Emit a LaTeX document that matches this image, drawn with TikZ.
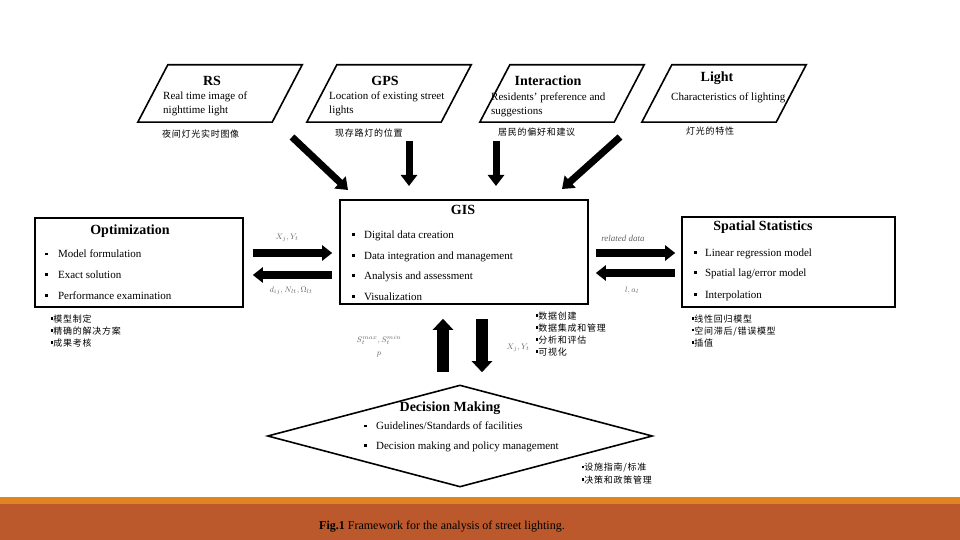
\documentclass[tikz,border=0pt]{standalone}
\usepackage{fontspec}
\setmainfont{Liberation Serif}
\newfontfamily\cjk[LetterSpace=8]{Noto Sans CJK SC}
\usetikzlibrary{arrows.meta,shapes.geometric}
\definecolor{barorange}{RGB}{226,131,33}
\definecolor{barrust}{RGB}{187,88,44}
\newcommand\sqb{\rule[0.22em]{0.26em}{0.26em}}
\newcommand\zsq{\rule[0.3em]{0.25em}{0.25em}}
\tikzset{
  pframe/.style={minimum width=164pt, minimum height=57pt, inner sep=0pt, draw=none},
  pline/.style={line width=1.6pt, line join=miter},
  boxnode/.style={draw, line width=1.6pt, inner sep=0pt},
  dnode/.style={draw, diamond, line width=1.6pt, inner sep=0pt, minimum width=385pt, minimum height=102pt},
  ttl/.style={font=\fontsize{14}{16}\selectfont\bfseries, inner sep=0pt},
  body/.style={font=\fontsize{11}{13}\selectfont, inner sep=0pt, anchor=west},
  zh/.style={font=\cjk\fontsize{9}{11}\selectfont, inner sep=0pt, anchor=west},
  lab/.style={font=\fontsize{8}{10}\selectfont, text=black!60, inner sep=0pt},
  harrow/.style={line width=8pt, -{Triangle[length=10pt,width=15pt]}},
  varrow/.style={line width=12pt, -{Triangle[length=11pt,width=20pt]}},
  tarrow/.style={line width=7pt, -{Triangle[length=11pt,width=16pt]}},
}
\begin{document}
\begin{tikzpicture}[x=1pt,y=-1pt]
\useasboundingbox (0,0) rectangle (960,540);
\fill[white] (0,0) rectangle (960,540);
\fill[barorange] (0,497) rectangle (960,504);
\fill[barrust] (0,504) rectangle (960,540);

% parallelograms
\foreach \n/\cx in {rs/220, gps/389, inter/562, light/724}{
  \node[pframe] (\n) at (\cx,93.5) {};
  \draw[pline] ([xshift=30pt]\n.north west) -- (\n.north east) -- ([xshift=-30pt]\n.south east) -- (\n.south west) -- cycle;
}
\node[ttl] (rst) at (212,81) {RS};
\node[body] (rs1) at (163,97) {Real time image of};
\node[body] (rs2) at (163,111) {nighttime light};
\node[zh] (rsz) at (162,134) {夜间灯光实时图像};

\node[ttl] (gpst) at (385,81) {GPS};
\node[body] (gps1) at (329,97) {Location of existing street};
\node[body] (gps2) at (329,111) {lights};
\node[zh] (gpsz) at (335,133) {现存路灯的位置};

\node[ttl] (intert) at (548,81) {Interaction};
\node[body] (inter1) at (491,98) {Residents’ preference and};
\node[body] (inter2) at (491,112) {suggestions};
\node[zh] (interz) at (498,132) {居民的偏好和建议};

\node[ttl] (lightt) at (717,78) {Light};
\node[body] (light1) at (671,98) {Characteristics of lighting};
\node[zh] (lightz) at (686,131) {灯光的特性};

% top arrows
\coordinate (a1s) at (292,137); \coordinate (a1e) at (348,190);
\coordinate (a2s) at (409,141); \coordinate (a2e) at (409,186);
\coordinate (a3s) at (496,141); \coordinate (a3e) at (496,186);
\coordinate (a4s) at (620,137); \coordinate (a4e) at (562,189);
\draw[tarrow] (a1s) -- (a1e);
\draw[tarrow] (a2s) -- (a2e);
\draw[tarrow] (a3s) -- (a3e);
\draw[tarrow] (a4s) -- (a4e);

% GIS
\node[boxnode, minimum width=248pt, minimum height=104pt] (gis) at (464,252) {};
\node[ttl] (gist) at (463,210) {GIS};
\node[body] (gis1) at (352,236) {\sqb\hspace{9pt}Digital data creation};
\node[body] (gis2) at (352,256.5) {\sqb\hspace{9pt}Data integration and management};
\node[body] (gis3) at (352,277) {\sqb\hspace{9pt}Analysis and assessment};
\node[body] (gis4) at (352,297) {\sqb\hspace{9pt}Visualization};
\node[zh] (gisz1) at (536,316) {\zsq 数据创建};
\node[zh] (gisz2) at (536,328) {\zsq 数据集成和管理};
\node[zh] (gisz3) at (536,340) {\zsq 分析和评估};
\node[zh] (gisz4) at (536,352) {\zsq 可视化};

% Optimization
\node[boxnode, minimum width=208pt, minimum height=89pt] (opt) at (139,262.5) {};
\node[ttl] (optt) at (130,231) {Optimization};
\node[body] (opt1) at (45,254) {\sqb\hspace{10pt}Model formulation};
\node[body] (opt2) at (45,275) {\sqb\hspace{10pt}Exact solution};
\node[body] (opt3) at (45,295.5) {\sqb\hspace{10pt}Performance examination};
\node[zh] (optz1) at (51,319) {\zsq 模型制定};
\node[zh] (optz2) at (51,331) {\zsq 精确的解决方案};
\node[zh] (optz3) at (51,343) {\zsq 成果考核};

% Spatial statistics
\node[boxnode, minimum width=213pt, minimum height=90pt] (sp) at (788.5,262) {};
\node[ttl] (spt) at (763,227) {Spatial Statistics};
\node[body] (sp1) at (694,253.5) {\sqb\hspace{8pt}Linear regression model};
\node[body] (sp2) at (694,273.5) {\sqb\hspace{8pt}Spatial lag/error model};
\node[body] (sp3) at (694,295.5) {\sqb\hspace{8pt}Interpolation};
\node[zh] (spz1) at (692,319) {\zsq 线性回归模型};
\node[zh] (spz2) at (692,331) {\zsq 空间滞后/错误模型};
\node[zh] (spz3) at (692,343) {\zsq 插值};

% horizontal arrows
\draw[harrow, shorten <=9pt, shorten >=7pt] (opt.east |- 0,253) -- (gis.west |- 0,253);
\draw[harrow, shorten <=7pt, shorten >=9pt] (gis.west |- 0,275) -- (opt.east |- 0,275);
\draw[harrow, shorten <=7pt, shorten >=6pt] (gis.east |- 0,253) -- (sp.west |- 0,253);
\draw[harrow, shorten <=6pt, shorten >=7pt] (sp.west |- 0,273) -- (gis.east |- 0,273);
\node[lab] (l1) at (287,238) {$X_j, Y_t$};
\node[lab] (l2) at (291,291) {$d_{ij}, N_{lt}, \Omega_{lt}$};
\node[lab, font=\fontsize{9}{11}\selectfont\itshape] (l3) at (623,238) {related data};
\node[lab] (l4) at (632,290) {$l, a_l$};

% Decision Making
\node[dnode] (dm) at (460,436) {};
\node[ttl] (dmt) at (450,408) {Decision Making};
\node[body] (dm1) at (364,426) {\sqb\hspace{9pt}Guidelines/Standards of facilities};
\node[body] (dm2) at (364,447) {\sqb\hspace{9pt}Decision making and policy management};
\node[zh] (dmz1) at (582,468) {\zsq 设施指南/标准};
\node[zh] (dmz2) at (582,480) {\zsq 决策和政策管理};

% vertical arrows
\draw[varrow, shorten <=12pt, shorten >=14pt] (dm.north -| 443,0) -- (gis.south -| 443,0);
\draw[varrow, shorten <=14pt, shorten >=12pt] (gis.south -| 482,0) -- (dm.north -| 482,0);
\node[lab] (l5) at (379,340) {$S_t^{max}, S_t^{min}$};
\node[lab] (l6) at (379,355) {$p$};
\node[lab] (l7) at (518,348) {$X_j, Y_t$};

% caption
\node[inner sep=0pt, font=\fontsize{12}{14}\selectfont] (cap) at (442,527) {\textbf{Fig.1} Framework for the analysis of street lighting.};
\end{tikzpicture}
\end{document}
